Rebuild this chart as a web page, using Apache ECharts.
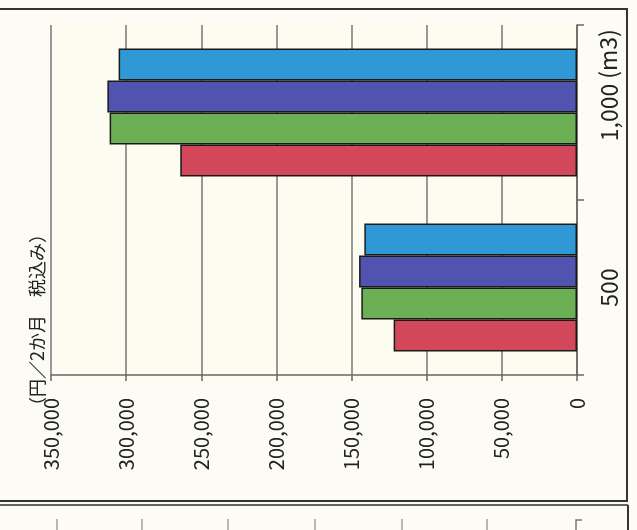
<!DOCTYPE html>
<html><head><meta charset="utf-8">
<script src="https://cdn.jsdelivr.net/npm/echarts@6/dist/echarts.min.js"></script>
<style>html,body{margin:0;padding:0;background:#fcfcf4;}#c{width:637px;height:530px;}</style>
</head><body><div id="c"></div>
<script>
const categories = ['500', '1,000'];
const seriesRed = [122000, 264000];
const seriesGreen = [143500, 311000];
const seriesPurple = [145000, 312500];
const seriesBlue = [141500, 305000];
const valueTicks = [0, 50000, 100000, 150000, 200000, 250000, 300000, 350000];
const unitLabel = '（円／2か月　税込み）';
const categoryUnit = '(m3)';

const FONT = '"Noto Sans CJK JP", "DejaVu Sans", sans-serif';
const chart = echarts.init(document.getElementById('c'));
const barStyle = c => ({ color: c, borderColor: '#1a1a1a', borderWidth: 1.5 });
const mk = (name, data, c) => ({ name, type: 'bar', data, barWidth: 32, barGap: 0, itemStyle: barStyle(c), silent: true });

const remnantXs = [57, 142, 228, 315, 402, 487];
const remnants = remnantXs.map(x => ({ type: 'line', silent: true, shape: { x1: x, y1: 519, x2: x, y2: 530 }, style: { stroke: '#888', lineWidth: 1.2 } }));
remnants.push({ type: 'polyline', silent: true, shape: { points: [[582, 520], [576, 520], [576, 530]] }, style: { stroke: '#777', lineWidth: 1.5, fill: null } });

chart.setOption({
  backgroundColor: '#fcfcf4',
  animation: false,
  grid: { left: 51, right: 60, top: 25, bottom: 155, containLabel: false, show: true, backgroundColor: '#fdfcf0', borderWidth: 0 },
  xAxis: {
    type: 'value', inverse: true, position: 'bottom',
    min: valueTicks[0], max: valueTicks[valueTicks.length - 1], interval: valueTicks[1] - valueTicks[0],
    axisLine: { show: true, lineStyle: { color: '#666', width: 1.5 } },
    axisTick: { show: true, length: 6, lineStyle: { color: '#666', width: 1.5 } },
    splitLine: { show: true, lineStyle: { color: '#777', width: 1.5 } },
    axisLabel: { rotate: 90, margin: 23, fontSize: 20, color: '#222', fontFamily: FONT,
      formatter: v => v.toLocaleString('en-US') }
  },
  yAxis: {
    type: 'category', position: 'right', data: categories,
    axisLine: { show: true, lineStyle: { color: '#666', width: 1.5 } },
    axisTick: { show: true, length: 7, lineStyle: { color: '#666', width: 1.5 } },
    axisLabel: { rotate: 90, margin: 21, fontSize: 23, color: '#222', fontFamily: FONT }
  },
  series: [
    mk('blue', seriesBlue, '#2f98d5'),
    mk('purple', seriesPurple, '#5153b0'),
    mk('green', seriesGreen, '#6caf55'),
    mk('red', seriesRed, '#d2475a')
  ],
  graphic: [
    { type: 'text', x: 37, y: 320, rotation: Math.PI / 2, silent: true,
      style: { text: unitLabel, fontSize: 18, fill: '#222', fontFamily: FONT, align: 'center', verticalAlign: 'middle' } },
    { type: 'text', x: 608, y: 54, rotation: Math.PI / 2, silent: true,
      style: { text: categoryUnit, fontSize: 23, fill: '#222', fontFamily: FONT, align: 'center', verticalAlign: 'middle' } },
    { type: 'line', shape: { x1: 0, y1: 9, x2: 628, y2: 9 }, style: { stroke: '#333', lineWidth: 2 } },
    { type: 'line', shape: { x1: 627, y1: 8, x2: 627, y2: 502 }, style: { stroke: '#333', lineWidth: 2 } },
    { type: 'line', shape: { x1: 0, y1: 501, x2: 628, y2: 501 }, style: { stroke: '#333', lineWidth: 2 } },
    { type: 'line', shape: { x1: 0, y1: 505, x2: 628, y2: 505 }, style: { stroke: '#333', lineWidth: 1.5 } },
    { type: 'line', shape: { x1: 628, y1: 505, x2: 628, y2: 530 }, style: { stroke: '#333', lineWidth: 2 } }
  ].concat(remnants)
});
</script></body></html>
